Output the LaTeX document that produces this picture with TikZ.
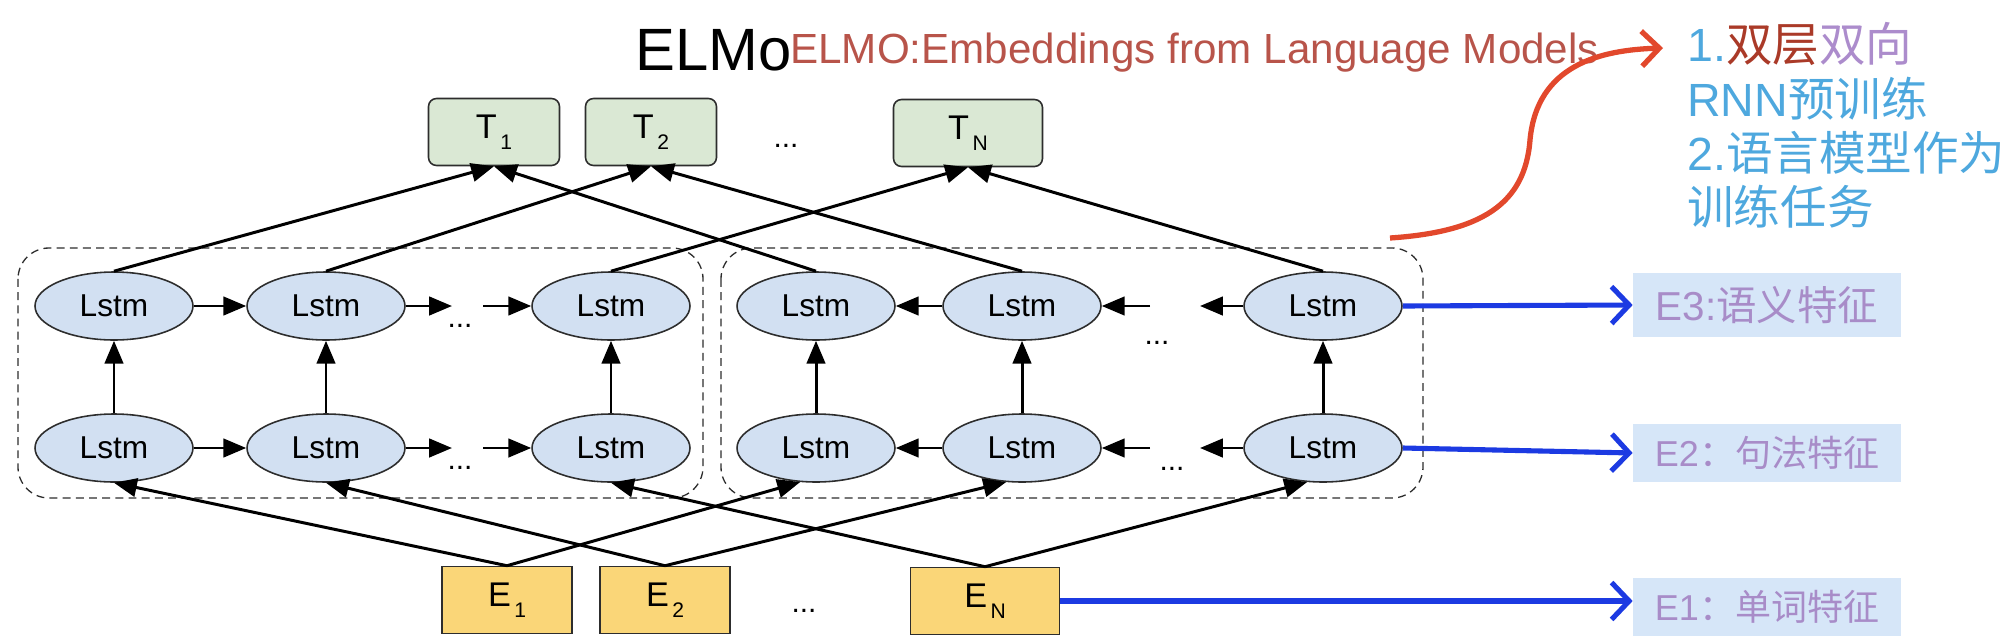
\documentclass[tikz,border=0pt]{standalone}
\usepackage{fontspec}
\setmainfont{Liberation Sans}
\newfontfamily\cjk{Noto Sans CJK SC}
\usetikzlibrary{arrows.meta,calc,positioning,shapes.geometric}

\definecolor{lstmfill}{RGB}{210,224,242}
\definecolor{tfill}{RGB}{218,232,212}
\definecolor{efill}{RGB}{250,214,120}
\definecolor{labfill}{RGB}{214,230,248}
\definecolor{labtext}{RGB}{168,140,200}
\definecolor{featblue}{RGB}{28,58,226}
\definecolor{curvered}{RGB}{226,72,44}
\definecolor{titlered}{RGB}{184,84,74}
\definecolor{noteblue}{RGB}{78,168,222}
\definecolor{notered}{RGB}{170,58,40}
\definecolor{notepurple}{RGB}{172,140,204}
\definecolor{edge}{RGB}{45,45,45}

\newcommand{\subtok}[2]{#1\hspace{0.1em}\raisebox{-6pt}{\fontsize{12}{12}\selectfont #2}}

\begin{document}
\begin{tikzpicture}[x=0.02cm, y=-0.02cm, >={Triangle[length=13pt,width=10.5pt]},
    lstm/.style={ellipse, draw=edge, line width=0.9pt, fill=lstmfill, minimum width=3.16cm, minimum height=1.36cm, inner sep=0pt, font=\fontsize{18}{18}\selectfont},
    tbox/.style={rectangle, rounded corners=0.16cm, draw=edge, line width=0.9pt, fill=tfill, minimum width=2.62cm, minimum height=1.34cm, inner sep=0pt, font=\fontsize{19.5}{19.5}\selectfont},
    ebox/.style={rectangle, draw=edge, line width=0.9pt, fill=efill, minimum width=2.6cm, minimum height=1.34cm, inner sep=0pt, font=\fontsize{19.5}{19.5}\selectfont},
    feat/.style={rectangle, fill=labfill, text=labtext, minimum width=5.36cm, inner sep=0pt},
    dots/.style={font=\fontsize{17}{17}\selectfont, anchor=base, inner sep=0pt},
    link/.style={->, line width=1.7pt},
    blk/.style={draw=edge, dashed, dash pattern=on 4.5pt off 3pt, line width=0.75pt, rounded corners=0.62cm},
    featarrow/.style={featblue, line width=2.9pt, -{Straight Barb[length=10pt,width=21pt]}}]
  \useasboundingbox (0,0) rectangle (2002,636);
  % two directions
  \draw[blk] (18,248) rectangle (703,498);
  \draw[blk] (721,248) rectangle (1423,498);
  % lstm cells, forward on the left, backward on the right
  \foreach \i/\x in {1/114, 2/326, 3/611} {
    \node[lstm] (ftop\i) at (\x,306) {Lstm};
    \node[lstm] (fbot\i) at (\x,448) {Lstm};
    \draw[link] (fbot\i) -- (ftop\i);
  }
  \foreach \i/\x in {1/816, 2/1022, 3/1323} {
    \node[lstm] (btop\i) at (\x,306) {Lstm};
    \node[lstm] (bbot\i) at (\x,448) {Lstm};
    \draw[link] (bbot\i) -- (btop\i);
  }
  \foreach \r/\y in {top/306, bot/448} {
    \coordinate (fgap\r a) at (452,\y);
    \coordinate (fgap\r b) at (483,\y);
    \draw[link] (f\r1) -- (f\r2);
    \draw[link] (f\r2) -- (fgap\r a);
    \draw[link] (fgap\r b) -- (f\r3);
    \coordinate (bgap\r a) at (1150,\y);
    \coordinate (bgap\r b) at (1200,\y);
    \draw[link] (b\r2) -- (b\r1);
    \draw[link] (bgap\r a) -- (b\r2);
    \draw[link] (b\r3) -- (bgap\r b);
  }
  \node[dots] (fdotstop) at (460,327) {...};
  \node[dots] (fdotsbot) at (460,469) {...};
  \node[dots] (bdotstop) at (1157,344) {...};
  \node[dots] (bdotsbot) at (1172,470) {...};
  % outputs
  \node[tbox] (t1) at (494,132) {\subtok{T}{1}};
  \node[tbox] (t2) at (651,132) {\subtok{T}{2}};
  \node[tbox, minimum width=2.98cm] (tn) at (968,133) {\subtok{T}{N}};
  \node[dots] (tdots) at (786,147) {...};
  % embeddings
  \node[ebox] (e1) at (507,600) {\subtok{E}{1}};
  \node[ebox] (e2) at (665,600) {\subtok{E}{2}};
  \node[ebox, minimum width=2.98cm] (en) at (985,601) {\subtok{E}{N}};
  \node[dots] (edots) at (804,612) {...};
  % lstm -> T
  \draw[link] (ftop1.north) -- (t1.south);
  \draw[link] (btop1.north) -- (t1.south);
  \draw[link] (ftop2.north) -- (t2.south);
  \draw[link] (btop2.north) -- (t2.south);
  \draw[link] (ftop3.north) -- (tn.south);
  \draw[link] (btop3.north) -- (tn.south);
  % E -> lstm
  \draw[link] (e1.north) -- (fbot1.south);
  \draw[link] (e1.north) -- (bbot1.-115);
  \draw[link] (e2.north) -- (fbot2.south);
  \draw[link] (e2.north) -- (bbot2.-115);
  \draw[link] (en.north) -- (fbot3.south);
  \draw[link] (en.north) -- (bbot3.-115);
  % feature labels
  \node[feat, minimum height=1.28cm, font=\fontsize{23}{23}\selectfont] (lab3) at (1767,305) {E3:{\cjk 语义特征}};
  \node[feat, minimum height=1.16cm, font=\fontsize{20.5}{20.5}\selectfont] (lab2) at (1767,453) {E2{\cjk ：句法特征}};
  \node[feat, minimum height=1.16cm, font=\fontsize{20.5}{20.5}\selectfont] (lab1) at (1767,607) {E1{\cjk ：单词特征}};
  \draw[featarrow] (btop3.east) -- (lab3.west);
  \draw[featarrow] (bbot3.east) -- (lab2.west);
  \draw[featarrow] (en.east) -- (en.east -| lab1.west);
  % title
  \node[anchor=base west, inner sep=0pt, font=\fontsize{34}{34}\selectfont] (title) at (635,70) {ELMo};
  \node[anchor=base west, inner sep=0pt, text=titlered, font=\fontsize{24}{24}\selectfont] (subtitle) at (790,63) {ELMO:Embeddings from Language Models};
  % note
  \node[anchor=north west, inner sep=0pt, align=left, text=noteblue, font=\fontsize{26.5}{31}\selectfont] (note) at (1687,22)
    {1.{\cjk\textcolor{notered}{双层}\textcolor{notepurple}{双向}}\\RNN{\cjk 预训练}\\2.{\cjk 语言模型作为}\\{\cjk 训练任务}};
  \coordinate (curvestart) at (1390,238);
  \coordinate (curveend) at (1663,48);
  \draw[curvered, line width=3pt, -{Straight Barb[length=10pt,width=20pt]}] (curvestart)
    .. controls (1480,232) and (1525,205) .. (1530,140)
    .. controls (1537,65) and (1600,50) .. (curveend);
\end{tikzpicture}
\end{document}
